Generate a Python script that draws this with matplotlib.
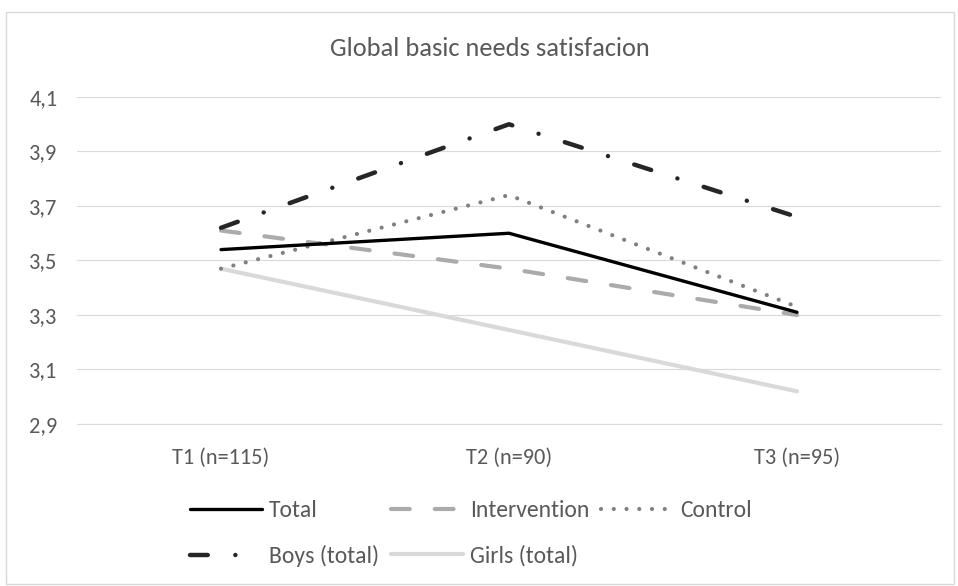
import matplotlib
matplotlib.use("Agg")
import matplotlib.pyplot as plt
from matplotlib.patches import Rectangle

categories = ["T1 (n=115)", "T2 (n=90)", "T3 (n=95)"]
total = [3.54, 3.60, 3.31]
intervention = [3.61, 3.47, 3.30]
control = [3.47, 3.74, 3.33]
boys = [3.62, 4.00, 3.66]
girls = [3.47, 3.245, 3.02]
yticks = [2.9, 3.1, 3.3, 3.5, 3.7, 3.9, 4.1]
ytick_labels = ["2,9", "3,1", "3,3", "3,5", "3,7", "3,9", "4,1"]
title = "Global basic needs satisfacion"

plt.rcParams['font.family'] = ['Carlito', 'Lato', 'DejaVu Sans']
txt = "#595959"

W, H = 958, 586
fig = plt.figure(figsize=(W / 100, H / 100), dpi=100)
ax = fig.add_axes([77 / W, 1 - 424 / H, (941 - 77) / W, (424 - 97) / H])

x = list(range(len(categories)))
ax.plot(x, girls, color="#D9D9D9", lw=3.0, solid_capstyle="round", label="Girls (total)", zorder=3)
ax.plot(x, intervention, color="#ABABAB", lw=3.0, dashes=(4.5, 6.0), dash_capstyle="round",
        label="Intervention", zorder=4)
ax.plot(x, control, color="#808080", lw=3.0, dashes=(0.01, 3.05), dash_capstyle="round",
        label="Control", zorder=5)
ax.plot(x, total, color="#000000", lw=2.4, solid_capstyle="round", label="Total", zorder=6)
ax.plot(x, boys, color="#262626", lw=3.2, dashes=(4.0, 6.2, 0.01, 6.2), dash_capstyle="round",
        label="Boys (total)", zorder=7)

ax.set_xlim(-0.5, 2.5)
ax.set_ylim(2.9, 4.1)
ax.set_yticks(yticks)
ax.set_yticklabels(ytick_labels)
ax.set_xticks(x)
ax.set_xticklabels(categories)
ax.grid(axis="y", color="#D9D9D9", lw=0.8)
ax.set_axisbelow(True)
for s in ["top", "right", "left"]:
    ax.spines[s].set_visible(False)
ax.spines["bottom"].set_color("#D9D9D9")
ax.spines["bottom"].set_linewidth(0.8)
ax.tick_params(axis="both", length=0, colors=txt, labelsize=16)
ax.tick_params(axis="y", pad=14)
ax.tick_params(axis="x", pad=17)

fig.text(490 / W, 1 - 48 / H, title, ha="center", va="center", fontsize=19, color=txt)

# border
fig.patches.append(Rectangle((6 / W, 2 / H), (954 - 6) / W, (574 - 2) / H,
                             transform=fig.transFigure, fill=False, edgecolor="#D9D9D9", lw=1))

handles, labels = ax.get_legend_handles_labels()
order = ["Total", "Boys (total)", "Intervention", "Girls (total)", "Control"]
hmap = dict(zip(labels, handles))
leg = fig.legend([hmap[o] for o in order], order, ncol=3, loc="center left",
                 bbox_to_anchor=(190 / W, 1 - 533.5 / H), frameon=False, fontsize=17,
                 handlelength=3.05, handletextpad=0.3, columnspacing=0.5, labelspacing=1.0,
                 borderpad=0, borderaxespad=0, labelcolor=txt)

fig.savefig("out.png", dpi=100)
